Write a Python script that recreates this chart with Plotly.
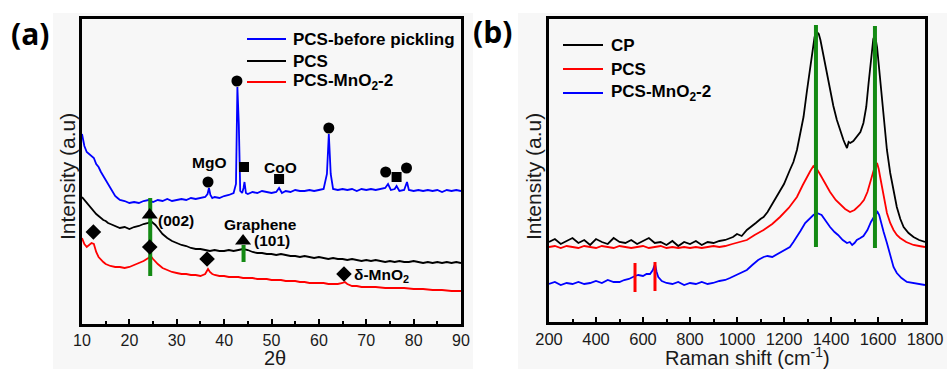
import plotly.graph_objects as go

W, H = 947, 369

# ---------------- Panel (a): XRD ----------------
xrd_blue_x = [10, 10.5, 11, 11.5, 12, 12.5, 13, 13.5, 14, 14.5, 15, 15.5, 16, 16.5, 17, 17.5, 18, 19, 20, 21, 22, 23, 24, 25, 26, 27, 28, 29, 30, 31, 32, 33, 34, 35, 36, 36.5, 36.8, 37.1, 37.5, 38, 39, 40, 41, 42, 42.5, 42.8, 43.1, 43.4, 43.8, 44.1, 44.3, 44.6, 45, 46, 47, 48, 49, 50, 51, 51.6, 52.2, 53, 54, 55, 56, 57, 58, 59, 60, 61, 61.7, 62.1, 62.5, 63, 64, 65, 66, 67, 68, 69, 70, 71, 72, 73, 74, 74.6, 75.2, 76, 76.4, 77, 78, 78.3, 78.6, 79, 80, 81, 82, 83, 84, 85, 86, 87, 88, 89, 90]
xrd_blue_y = [190, 178, 172, 170, 168, 166, 160, 157, 152, 148, 143, 140, 135, 131, 128, 126, 124, 123, 121, 122, 121, 123, 124, 122, 124, 123, 125, 123, 124, 125, 124, 126, 125, 126, 127, 130, 136, 129, 126, 127, 126, 128, 129, 131, 140, 237, 200, 133, 131, 136, 142, 131, 130, 132, 131, 133, 132, 131, 132, 136, 131, 133, 132, 134, 133, 133, 134, 133, 134, 135, 150, 190, 150, 135, 134, 135, 134, 135, 133, 135, 134, 135, 134, 135, 136, 140, 134, 135, 138, 133, 134, 138, 142, 134, 133, 134, 133, 134, 133, 134, 132, 134, 133, 134, 133]

xrd_black_x = [10, 10.5, 11, 11.5, 12, 12.5, 13, 13.5, 14, 14.5, 15, 15.5, 16, 17, 18, 19, 20, 21, 22, 23, 24, 24.5, 25, 25.5, 26, 26.5, 27, 28, 29, 30, 31, 32, 33, 34, 35, 36, 37, 38, 39, 40, 41, 42, 43, 44, 45, 46, 47, 48, 49, 50, 51, 52, 53, 54, 55, 56, 57, 58, 59, 60, 61, 62, 63, 64, 65, 66, 67, 68, 69, 70, 71, 72, 73, 74, 75, 76, 77, 78, 79, 80, 81, 82, 83, 84, 85, 86, 87, 88, 89, 90]
xrd_black_y = [127, 124, 121, 118, 116, 113, 110, 108, 106, 104, 103, 101, 100, 98, 96, 97, 95, 97, 98, 100, 101, 103, 101, 99, 96, 93, 90, 86, 83, 81, 79, 78, 76, 75, 75, 74, 73, 74, 73, 73, 74, 73, 74, 75, 74, 72, 71, 71, 70, 70, 69, 70, 69, 68, 68, 67, 68, 67, 66, 67, 66, 65, 66, 65, 65, 64, 65, 64, 63, 64, 63, 64, 63, 62, 63, 62, 63, 62, 62, 63, 62, 61, 62, 61, 62, 61, 62, 61, 62, 61]

xrd_red_x = [10, 10.5, 11, 11.5, 12, 12.5, 13, 13.5, 14, 14.5, 15, 15.5, 16, 17, 18, 19, 20, 21, 22, 23, 24, 24.5, 25, 25.5, 26, 27, 28, 29, 30, 31, 32, 33, 34, 35, 36, 36.6, 37, 37.5, 38, 39, 40, 41, 42, 43, 44, 45, 46, 47, 48, 49, 50, 51, 52, 53, 54, 55, 56, 57, 58, 59, 60, 61, 62, 63, 64, 65, 65.5, 66, 67, 68, 69, 70, 72, 74, 76, 78, 80, 82, 84, 86, 88, 90]
xrd_red_y = [86, 80, 77, 79, 81, 80, 72, 67, 64, 62, 60, 59, 58, 57, 57, 56, 57, 59, 61, 63, 66, 68, 65, 62, 60, 56, 54, 52, 51, 50, 50, 49, 49, 48, 50, 55, 52, 50, 49, 48, 48, 47, 47, 47, 46, 46, 46, 45, 45, 45, 44, 44, 44, 43, 43, 43, 42, 42, 41, 41, 41, 41, 40, 40, 40, 41, 42, 40, 38, 38, 37, 37, 37, 36, 36, 36, 35, 35, 34, 34, 33, 33]

# phase markers (a)
circle_x = [42.7, 36.6, 62.1, 74.1, 78.5]
circle_y = [243, 142, 196, 152, 156]
square_x = [44.2, 51.6, 76.4]
square_y = [157, 145, 147]
triangle_x = [24.3, 44.0]
triangle_y = [109, 83]
diamond_x = [12.4, 24.3, 36.4, 65.3]
diamond_y = [92, 77, 65, 50]
green_a_x = [24.4, 44.1]
green_a_y0 = [126, 79]
green_a_y1 = [48, 62]

labels_a = ["MgO", "CoO", "(002)", "Graphene", "(101)"]
labels_a_x = [36.8, 51.8, 29.8, 47.6, 50.0]
labels_a_y = [161, 156, 103, 99, 83]
mno2_label = "δ-MnO<sub>2</sub>"
mno2_label_x = 67.0
mno2_label_y = 49

legend_a_names = ["PCS-before pickling", "PCS", "PCS-MnO<sub>2</sub>-2"]
legend_b_names = ["CP", "PCS", "PCS-MnO<sub>2</sub>-2"]

# ---------------- Panel (b): Raman ----------------
ram_cp_x = [200, 225, 250, 275, 300, 325, 350, 375, 400, 425, 450, 475, 500, 525, 550, 575, 600, 625, 650, 675, 700, 725, 750, 775, 800, 825, 850, 875, 900, 925, 950, 983, 1000, 1020, 1042, 1060, 1080, 1100, 1113, 1130, 1150, 1165, 1183, 1200, 1225, 1240, 1255, 1270, 1283, 1297, 1311, 1322, 1330, 1340, 1348, 1355, 1365, 1375, 1385, 1396, 1410, 1425, 1440, 1453, 1460, 1468, 1475, 1482, 1495, 1510, 1525, 1538, 1550, 1560, 1568, 1575, 1580, 1585, 1590, 1596, 1603, 1610, 1617, 1624, 1638, 1652, 1666, 1680, 1695, 1709, 1730, 1751, 1775, 1800]
ram_cp_y = [80, 83, 78, 81, 84, 79, 82, 77, 83, 80, 78, 84, 80, 79, 82, 78, 81, 84, 79, 80, 77, 81, 76, 80, 78, 81, 77, 80, 79, 81, 82, 85, 88, 86, 92, 95, 99, 103, 105, 110, 118, 124, 132, 138, 152, 160, 172, 188, 205, 230, 255, 275, 285, 290, 288, 282, 270, 259, 245, 232, 216, 202, 190, 182, 178, 174, 180, 179, 181, 185, 190, 199, 215, 239, 258, 275, 283, 286, 283, 275, 258, 239, 220, 202, 172, 149, 130, 115, 103, 95, 89, 85, 82, 80]

ram_pcs_x = [200, 225, 250, 275, 300, 325, 350, 375, 400, 425, 450, 475, 500, 525, 550, 575, 600, 625, 650, 675, 700, 725, 750, 775, 800, 825, 850, 875, 900, 925, 950, 980, 1010, 1042, 1075, 1113, 1150, 1183, 1220, 1255, 1280, 1297, 1312, 1325, 1340, 1355, 1375, 1396, 1420, 1440, 1460, 1481, 1500, 1523, 1540, 1555, 1570, 1582, 1596, 1603, 1610, 1624, 1638, 1652, 1666, 1680, 1694, 1720, 1751, 1775, 1800]
ram_pcs_y = [75, 76, 74, 76, 75, 74, 76, 75, 74, 76, 75, 74, 76, 75, 74, 75, 76, 74, 75, 76, 74, 75, 74, 75, 74, 75, 74, 75, 76, 75, 76, 78, 80, 82, 87, 92, 98, 105, 114, 125, 137, 145, 151, 156, 153, 147, 138, 130, 122, 117, 113, 110, 112, 117, 122, 130, 142, 152, 159, 153, 144, 125, 109, 99, 92, 87, 84, 80, 77, 76, 75]

ram_mno2_x = [200, 225, 250, 275, 300, 325, 350, 375, 400, 425, 450, 475, 500, 520, 540, 555, 566, 580, 600, 615, 630, 642, 651, 658, 665, 680, 700, 725, 750, 775, 800, 825, 850, 875, 898, 925, 950, 970, 1000, 1020, 1042, 1065, 1090, 1113, 1130, 1150, 1165, 1183, 1200, 1225, 1240, 1255, 1270, 1290, 1310, 1325, 1340, 1350, 1360, 1378, 1396, 1415, 1430, 1450, 1468, 1480, 1490, 1500, 1510, 1525, 1538, 1555, 1570, 1585, 1598, 1605, 1610, 1624, 1638, 1652, 1666, 1680, 1700, 1723, 1750, 1775, 1800]
ram_mno2_y = [38, 40, 37, 39, 38, 40, 38, 39, 41, 39, 42, 40, 40, 42, 43, 45, 46, 47, 46, 48, 48, 52, 58, 50, 45, 41, 39, 38, 40, 37, 39, 38, 40, 38, 39, 41, 42, 44, 47, 49, 52, 57, 62, 65, 66, 65, 67, 69, 71, 75, 80, 85, 91, 99, 104, 107, 109, 108, 107, 101, 95, 90, 87, 82, 79, 80, 77, 79, 82, 84, 86, 92, 100, 106, 110, 107, 102, 90, 79, 66, 55, 49, 44, 40, 39, 38, 37]

green_b_x = [1336, 1587]
green_b_y0 = [297, 296]
green_b_y1 = [75, 74]
red_b_x = [566, 651]
red_b_y0 = [59, 60]
red_b_y1 = [30, 31]

BLUE, BLACK, RED, GREEN = "#0000ff", "#000000", "#ff0000", "#138a13"
FONT = "Liberation Sans"
TXT = "#1a1a1a"

fig = go.Figure()

def px_x(p):
    return p / W

def px_y(p):
    return 1 - p / H

fig.add_trace(go.Scatter(x=xrd_blue_x, y=xrd_blue_y, mode="lines", line=dict(color=BLUE, width=1.8),
                         name="PCS-before pickling", xaxis="x", yaxis="y"))
fig.add_trace(go.Scatter(x=xrd_black_x, y=xrd_black_y, mode="lines", line=dict(color=BLACK, width=1.8),
                         name="PCS", xaxis="x", yaxis="y"))
fig.add_trace(go.Scatter(x=xrd_red_x, y=xrd_red_y, mode="lines", line=dict(color=RED, width=1.8),
                         name="PCS-MnO2-2", xaxis="x", yaxis="y"))

for gx, g0, g1 in zip(green_a_x, green_a_y0, green_a_y1):
    fig.add_trace(go.Scatter(x=[gx, gx], y=[g0, g1], mode="lines", line=dict(color=GREEN, width=4),
                             hoverinfo="skip", xaxis="x", yaxis="y"))

for mx, my, sym, sz in [(circle_x, circle_y, "circle", 11), (square_x, square_y, "square", 10),
                        (triangle_x, triangle_y, "triangle-up", 14), (diamond_x, diamond_y, "diamond", 12)]:
    fig.add_trace(go.Scatter(x=mx, y=my, mode="markers", marker=dict(symbol=sym, size=sz, color=BLACK),
                             xaxis="x", yaxis="y"))

fig.add_trace(go.Scatter(x=ram_cp_x, y=ram_cp_y, mode="lines", line=dict(color=BLACK, width=1.8),
                         name="CP", xaxis="x2", yaxis="y2"))
fig.add_trace(go.Scatter(x=ram_pcs_x, y=ram_pcs_y, mode="lines", line=dict(color=RED, width=1.8),
                         name="PCS", xaxis="x2", yaxis="y2"))
fig.add_trace(go.Scatter(x=ram_mno2_x, y=ram_mno2_y, mode="lines", line=dict(color=BLUE, width=1.8),
                         name="PCS-MnO2-2", xaxis="x2", yaxis="y2"))

for gx, g0, g1 in zip(green_b_x, green_b_y0, green_b_y1):
    fig.add_trace(go.Scatter(x=[gx, gx], y=[g0, g1], mode="lines", line=dict(color=GREEN, width=4),
                             hoverinfo="skip", xaxis="x2", yaxis="y2"))
for rx, r0, r1 in zip(red_b_x, red_b_y0, red_b_y1):
    fig.add_trace(go.Scatter(x=[rx, rx], y=[r0, r1], mode="lines", line=dict(color=RED, width=3),
                             hoverinfo="skip", xaxis="x2", yaxis="y2"))

annotations = []
for t, ax_, ay_ in zip(labels_a, labels_a_x, labels_a_y):
    annotations.append(dict(x=ax_, y=ay_, xref="x", yref="y", text="<b>%s</b>" % t, showarrow=False,
                            xanchor="center", yanchor="middle",
                            font=dict(family=FONT, size=15.5, color=BLACK)))
annotations.append(dict(x=mno2_label_x, y=mno2_label_y, xref="x", yref="y", text="<b>%s</b>" % mno2_label,
                        showarrow=False, xanchor="left", yanchor="middle",
                        font=dict(family=FONT, size=15.5, color=BLACK)))

def paper_text(x, y, text, size, family=FONT, color=TXT, angle=0, xanchor="center"):
    return dict(x=px_x(x), y=px_y(y), xref="paper", yref="paper", text=text, textangle=angle,
                xanchor=xanchor, yanchor="middle", showarrow=False,
                font=dict(family=family, size=size, color=color))

annotations += [
    paper_text(67, 177, "Intensity (a.u)", 21, angle=-90),
    paper_text(533, 177, "Intensity (a.u)", 21, angle=-90),
    paper_text(275, 358, "2θ", 20),
    paper_text(747, 356, "Raman shift (cm<sup>-1</sup>)", 20),
    paper_text(30, 33, "<b>(a)</b>", 30, family="Open Sans", color=BLACK),
    paper_text(492, 31, "<b>(b)</b>", 30, family="Open Sans", color=BLACK),
]

# panel backgrounds and custom legends (line sample + bold label)
shapes = [
    dict(type="rect", xref="paper", yref="paper", x0=px_x(53), x1=px_x(473), y0=0, y1=px_y(13),
         fillcolor="#f7f7f7", line=dict(width=0), layer="below"),
    dict(type="rect", xref="paper", yref="paper", x0=px_x(518), x1=1, y0=0, y1=px_y(13),
         fillcolor="#f7f7f7", line=dict(width=0), layer="below"),
]
for name, col, ly in zip(legend_a_names, [BLUE, BLACK, RED], [39, 61, 82]):
    shapes.append(dict(type="line", xref="paper", yref="paper", x0=px_x(247), x1=px_x(286),
                       y0=px_y(ly), y1=px_y(ly), line=dict(color=col, width=2), layer="above"))
    annotations.append(paper_text(291, ly, "<b>%s</b>" % name, 17, color=BLACK, xanchor="left"))
for name, col, ly in zip(legend_b_names, [BLACK, RED, BLUE], [45, 69, 93]):
    shapes.append(dict(type="line", xref="paper", yref="paper", x0=px_x(563), x1=px_x(603),
                       y0=px_y(ly), y1=px_y(ly), line=dict(color=col, width=2), layer="above"))
    annotations.append(paper_text(609, ly, "<b>%s</b>" % name, 17, color=BLACK, xanchor="left"))

def xaxis_cfg(dom, rng, t0, dt, mdt, anchor, fsize):
    return dict(domain=dom, range=rng, tickmode="linear", tick0=t0, dtick=dt, ticks="inside", ticklen=5,
                tickwidth=2, tickcolor=BLACK,
                minor=dict(ticks="inside", ticklen=3, dtick=mdt, tickcolor=BLACK, tickwidth=2),
                tickfont=dict(family=FONT, size=fsize, color=TXT), anchor=anchor, automargin=False,
                showgrid=False, zeroline=False, showline=True, linecolor=BLACK, linewidth=2.5, mirror=True)

def yaxis_cfg(dom, rng, anchor):
    return dict(domain=dom, range=rng, showticklabels=False, ticks="", anchor=anchor, automargin=False,
                showgrid=False, zeroline=False, showline=True, linecolor=BLACK, linewidth=2.5, mirror=True)

fig.update_layout(
    width=W, height=H, autosize=False,
    margin=dict(l=0, r=0, t=0, b=0, pad=0, autoexpand=False),
    paper_bgcolor="white", plot_bgcolor="#fafafa",
    xaxis=xaxis_cfg([px_x(82), px_x(461)], [10, 90], 10, 10, 5, "y", 16),
    yaxis=yaxis_cfg([px_y(324), px_y(19)], [0, 305], "x"),
    xaxis2=xaxis_cfg([px_x(549), px_x(925)], [200, 1800], 200, 200, 100, "y2", 16.5),
    yaxis2=yaxis_cfg([px_y(322), px_y(19)], [0, 303], "x2"),
    annotations=annotations, shapes=shapes, showlegend=False,
)

fig.write_html("out.html", config={"displayModeBar": False},
               post_script="document.body.style.margin='0px';")
